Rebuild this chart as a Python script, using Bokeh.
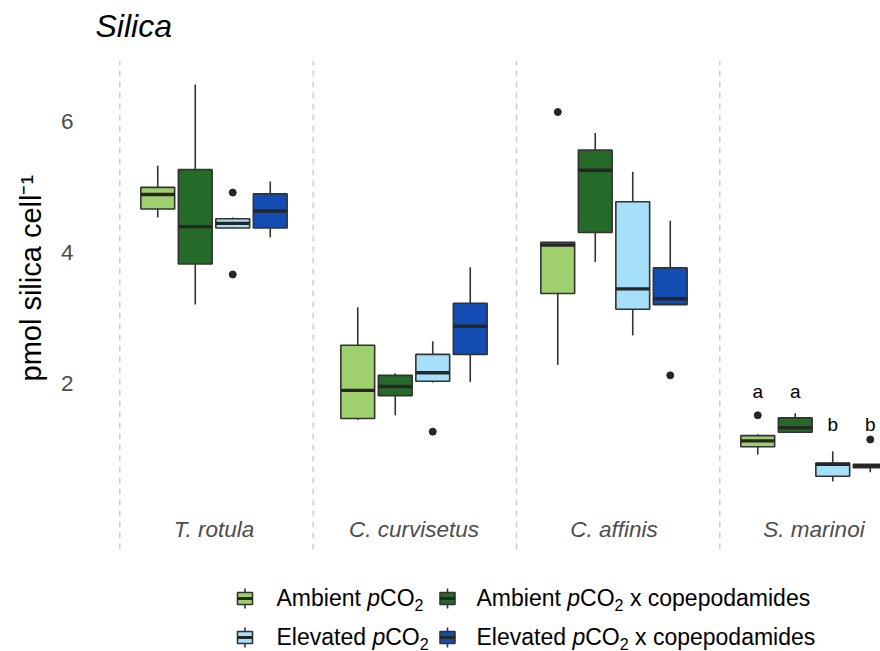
from bokeh.plotting import figure
from bokeh.models import Range1d, FixedTicker, Title
from bokeh.embed import file_html
from bokeh.resources import INLINE
from bokeh.core.properties import value

# ---- data -------------------------------------------------------------
species = ["T. rotula", "C. curvisetus", "C. affinis", "S. marinoi"]
treatments = ["Ambient", "Ambient x copepodamides", "Elevated", "Elevated x copepodamides"]
colors = ["#A0CF6E", "#256A28", "#A5DFF9", "#134DB3"]

# box statistics, species-major (4 treatments per species)
whisker_low = [4.53, 3.20, 4.36, 4.23,
               1.44, 1.51, 2.01, 2.02,
               2.28, 3.85, 2.73, 3.20,
               0.91, 1.25, 0.50, 0.64]
q1 = [4.66, 3.82, 4.37, 4.37,
      1.46, 1.81, 2.03, 2.44,
      3.37, 4.30, 3.13, 3.20,
      1.03, 1.25, 0.58, 0.71]
median = [4.88, 4.39, 4.44, 4.63,
          1.89, 1.95, 2.16, 2.87,
          4.11, 5.25, 3.44, 3.29,
          1.12, 1.32, 0.76, 0.74]
q3 = [4.99, 5.26, 4.51, 4.89,
      2.58, 2.12, 2.44, 3.22,
      4.15, 5.56, 4.77, 3.76,
      1.20, 1.47, 0.78, 0.76]
whisker_high = [5.32, 6.56, 4.53, 5.08,
                3.16, 2.15, 2.64, 3.77,
                4.15, 5.82, 5.23, 4.48,
                1.22, 1.54, 0.96, 0.76]

# outliers: (species index, treatment index, value)
outlier_species = [0, 0, 1, 2, 2, 3, 3]
outlier_treatment = [2, 2, 2, 0, 3, 0, 3]
outlier_value = [4.91, 3.66, 1.26, 6.14, 2.12, 1.51, 1.14]

# significance letters for S. marinoi
letters = ["a", "a", "b", "b"]
letter_y = [1.87, 1.87, 1.37, 1.37]

y_ticks = [2, 4, 6]

# ---- geometry ---------------------------------------------------------
DODGE = 0.1875
BOX_W = 0.169
FONT = "Liberation Sans"
OUTLINE = "#333333"
W, H = 880, 651
FRAME_LEFT = 95


def xpos(i, j):
    return (i + 1) + (j - 1.5) * DODGE


p = figure(width=W, height=H, output_backend="svg", toolbar_location=None,
           title=None, x_axis_location=None,
           x_range=Range1d(0.4075, 4.3325), y_range=Range1d(-2.0962, 7.8427),
           min_border_left=FRAME_LEFT, min_border_right=0,
           min_border_top=0, min_border_bottom=0)
p.outline_line_color = None
p.grid.visible = False
p.background_fill_color = "white"
p.border_fill_color = "white"

# pixel-based coordinate system for the title and legend
p.extra_x_ranges = {"px": Range1d(FRAME_LEFT, W)}
p.extra_y_ranges = {"px": Range1d(H, 0)}
PX = dict(x_range_name="px", y_range_name="px")

# panel separators
for xs in [0.529, 1.496, 2.5125, 3.529]:
    p.segment(x0=[xs], x1=[xs], y0=[-0.54], y1=[6.92], line_color="#CFCFCF",
              line_width=1.5, line_dash="6 5")

n = len(species) * len(treatments)
xs_all = [xpos(k // 4, k % 4) for k in range(n)]
fills = [colors[k % 4] for k in range(n)]

# whiskers
p.segment(x0=xs_all, x1=xs_all, y0=q3, y1=whisker_high, line_color=OUTLINE, line_width=1.6)
p.segment(x0=xs_all, x1=xs_all, y0=whisker_low, y1=q1, line_color=OUTLINE, line_width=1.6)
# boxes
p.vbar(x=xs_all, width=BOX_W, bottom=q1, top=q3, fill_color=fills,
       line_color=OUTLINE, line_width=1.6)
# medians
p.segment(x0=[x - BOX_W / 2 for x in xs_all], x1=[x + BOX_W / 2 for x in xs_all],
          y0=median, y1=median, line_color="#262626", line_width=3.4)
# outliers
p.scatter(x=[xpos(i, j) for i, j in zip(outlier_species, outlier_treatment)],
          y=outlier_value, size=7, color="#262626")

# letters above S. marinoi boxes
p.text(x=[xpos(3, j) for j in range(4)], y=letter_y, text=letters,
       text_align="center", text_baseline="middle", text_font=value(FONT),
       text_font_size="19px", text_color="black")

# species labels
p.text(x=[1, 2, 3, 4], y=[-0.234] * 4, text=species, text_align="center",
       text_baseline="middle", text_font=value(FONT), text_font_style="italic",
       text_font_size="22.5px", text_color="#4D4D4D")

# y axis
p.yaxis.ticker = FixedTicker(ticks=y_ticks)
p.yaxis.axis_line_color = None
p.yaxis.major_tick_line_color = None
p.yaxis.minor_tick_line_color = None
p.yaxis.major_tick_out = 0
p.yaxis.major_tick_in = 0
p.yaxis.major_label_standoff = 22
p.yaxis.major_label_text_font = FONT
p.yaxis.major_label_text_font_size = "22.5px"
p.yaxis.major_label_text_color = "#4D4D4D"

p.add_layout(Title(text="pmol silica cell\u207b\u00b9", align="left", offset=270,
                   standoff=22, text_font=FONT, text_font_size="29px",
                   text_font_style="normal", text_color="black"), "left")

# chart title
p.text(x=[95], y=[25], text=["Silica"], text_align="left", text_baseline="middle",
       text_font=value(FONT), text_font_style="italic", text_font_size="32px",
       text_color="black", **PX)

# ---- legend -----------------------------------------------------------
WIDTHS = {"A": .667, "m": .833, "b": .556, "i": .222, "e": .556, "n": .556,
          "t": .278, " ": .278, "E": .667, "l": .222, "v": .5, "a": .556,
          "d": .556, "C": .722, "O": .778, "x": .5, "c": .5, "o": .556,
          "p": .556, "s": .5, "2": .556}


def text_width(s, size):
    return sum(WIDTHS.get(ch, 0.556) for ch in s) * size


LG_SIZE = 23
key_x = [244.5, 447]
text_x = [276, 476]
key_y = [598, 637]
text_y = [597, 636]

for k, name in enumerate(treatments):
    row, col = k // 2, k % 2
    kx, ky = key_x[col], key_y[row]
    p.segment(x0=[kx, kx], x1=[kx, kx], y0=[ky - 10, ky + 6], y1=[ky - 6, ky + 10],
              line_color=OUTLINE, line_width=1.6, **PX)
    p.quad(left=[kx - 7.5], right=[kx + 7.5], top=[ky - 6], bottom=[ky + 6],
           fill_color=colors[k], line_color=OUTLINE, line_width=1.6, **PX)
    p.segment(x0=[kx - 7.5], x1=[kx + 7.5], y0=[ky], y1=[ky], line_color="#262626",
              line_width=3, **PX)

    prefix, _, suffix = name.partition(" x ")
    # (text, style, size, vertical shift, space before)
    parts = [(prefix, "normal", LG_SIZE, 0.0, 0),
             ("p", "italic", LG_SIZE, 0.0, 1),
             ("CO", "normal", LG_SIZE, 0.0, 0),
             ("2", "normal", LG_SIZE * 0.7, 7.0, 0)]
    if suffix:
        parts.append(("x " + suffix, "normal", LG_SIZE, 0.0, 1))
    x = text_x[col]
    for txt, style, size, dy, gap in parts:
        x += gap * text_width(" ", LG_SIZE)
        p.text(x=[x], y=[text_y[row] + dy], text=[txt], text_align="left",
               text_baseline="middle", text_font=value(FONT),
               text_font_style=style, text_font_size=f"{size:.1f}px",
               text_color="black", **PX)
        x += text_width(txt, size)

open("out.html", "w").write(file_html(p, INLINE))
